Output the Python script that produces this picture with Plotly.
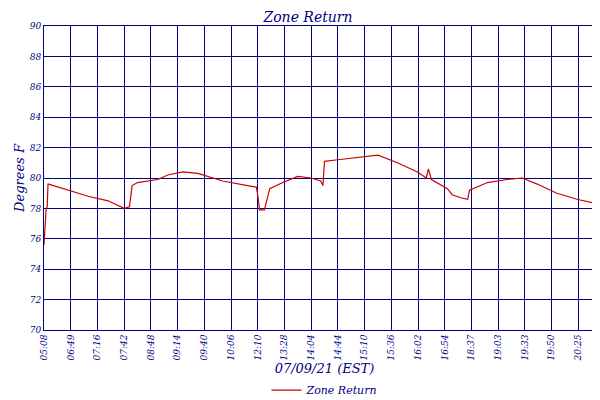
import plotly.graph_objects as go

tick_labels = ["05:08", "06:49", "07:16", "07:42", "08:48", "09:14", "09:40", "10:06",
               "12:10", "13:28", "14:04", "14:44", "15:10", "15:36", "16:02", "16:54",
               "18:37", "19:03", "19:33", "19:50", "20:25", "20:41"]

# position along the (evenly spaced) tick index, and temperature
pos = [0.0, 0.05, 0.08, 0.12, 0.15, 0.18, 0.9, 1.65, 2.4, 2.9, 3.0, 3.2, 3.3, 3.5, 4.26, 4.63,
       5.2, 5.76, 6.69, 7.62, 7.95, 8.0, 8.07, 8.25, 8.45, 8.94, 9.5, 9.99, 10.36, 10.44, 10.5,
       11.0, 11.56, 11.93, 12.5, 13.23, 13.98, 14.31, 14.39, 14.5, 15.1, 15.28, 15.6, 15.86,
       15.93, 16.6, 17.34, 17.9, 18.46, 19.2, 19.95, 21.0]
temp = [75.6, 76.8, 78.0, 78.1, 79.6, 79.6, 79.2, 78.8, 78.5, 78.1, 78.0, 78.1, 79.5, 79.7,
        79.9, 80.2, 80.4, 80.3, 79.8, 79.5, 79.4, 78.9, 77.9, 77.9, 79.3, 79.7, 80.1, 80.0,
        79.8, 79.5, 81.1, 81.2, 81.3, 81.4, 81.5, 81.0, 80.4, 80.0, 80.6, 79.9, 79.3, 78.9,
        78.7, 78.6, 79.2, 79.7, 79.9, 80.0, 79.6, 79.0, 78.6, 78.2]

navy = "#000080"
font = dict(family="DejaVu Serif", color=navy, style="italic")

fig = go.Figure(go.Scatter(x=pos, y=temp, mode="lines", name="Zone Return",
                           line=dict(color="#cc0000", width=1.2)))

fig.update_layout(
    width=600, height=400, margin=dict(l=36, r=3, t=18, b=67),
    plot_bgcolor="white", paper_bgcolor="white",
    title=dict(text="Zone Return", x=0.5, y=0.99, yanchor="top", xanchor="center",
               font=dict(size=14, **font)),
    showlegend=True,
    legend=dict(orientation="h", x=0.5, xanchor="center", y=-0.15, yanchor="top",
                font=dict(size=11, **font)),
)
fig.update_xaxes(range=[0, 21], tickvals=list(range(len(tick_labels))), ticktext=tick_labels,
                 tickangle=-90, tickfont=dict(size=9, **font), showgrid=True, automargin=False,
                 gridcolor=navy, gridwidth=1, showline=True, linecolor=navy, mirror=True,
                 zeroline=False, title=dict(text="07/09/21 (EST)", standoff=2,
                                            font=dict(size=13, **font)))
fig.update_yaxes(range=[70, 90], dtick=2, tickfont=dict(size=9, **font), showgrid=True,
                 automargin=False,
                 gridcolor=navy, gridwidth=1, showline=True, linecolor=navy, mirror=True,
                 zeroline=False, title=dict(text="Degrees F", standoff=2,
                                            font=dict(size=13, **font)))

fig.write_html("out.html")
